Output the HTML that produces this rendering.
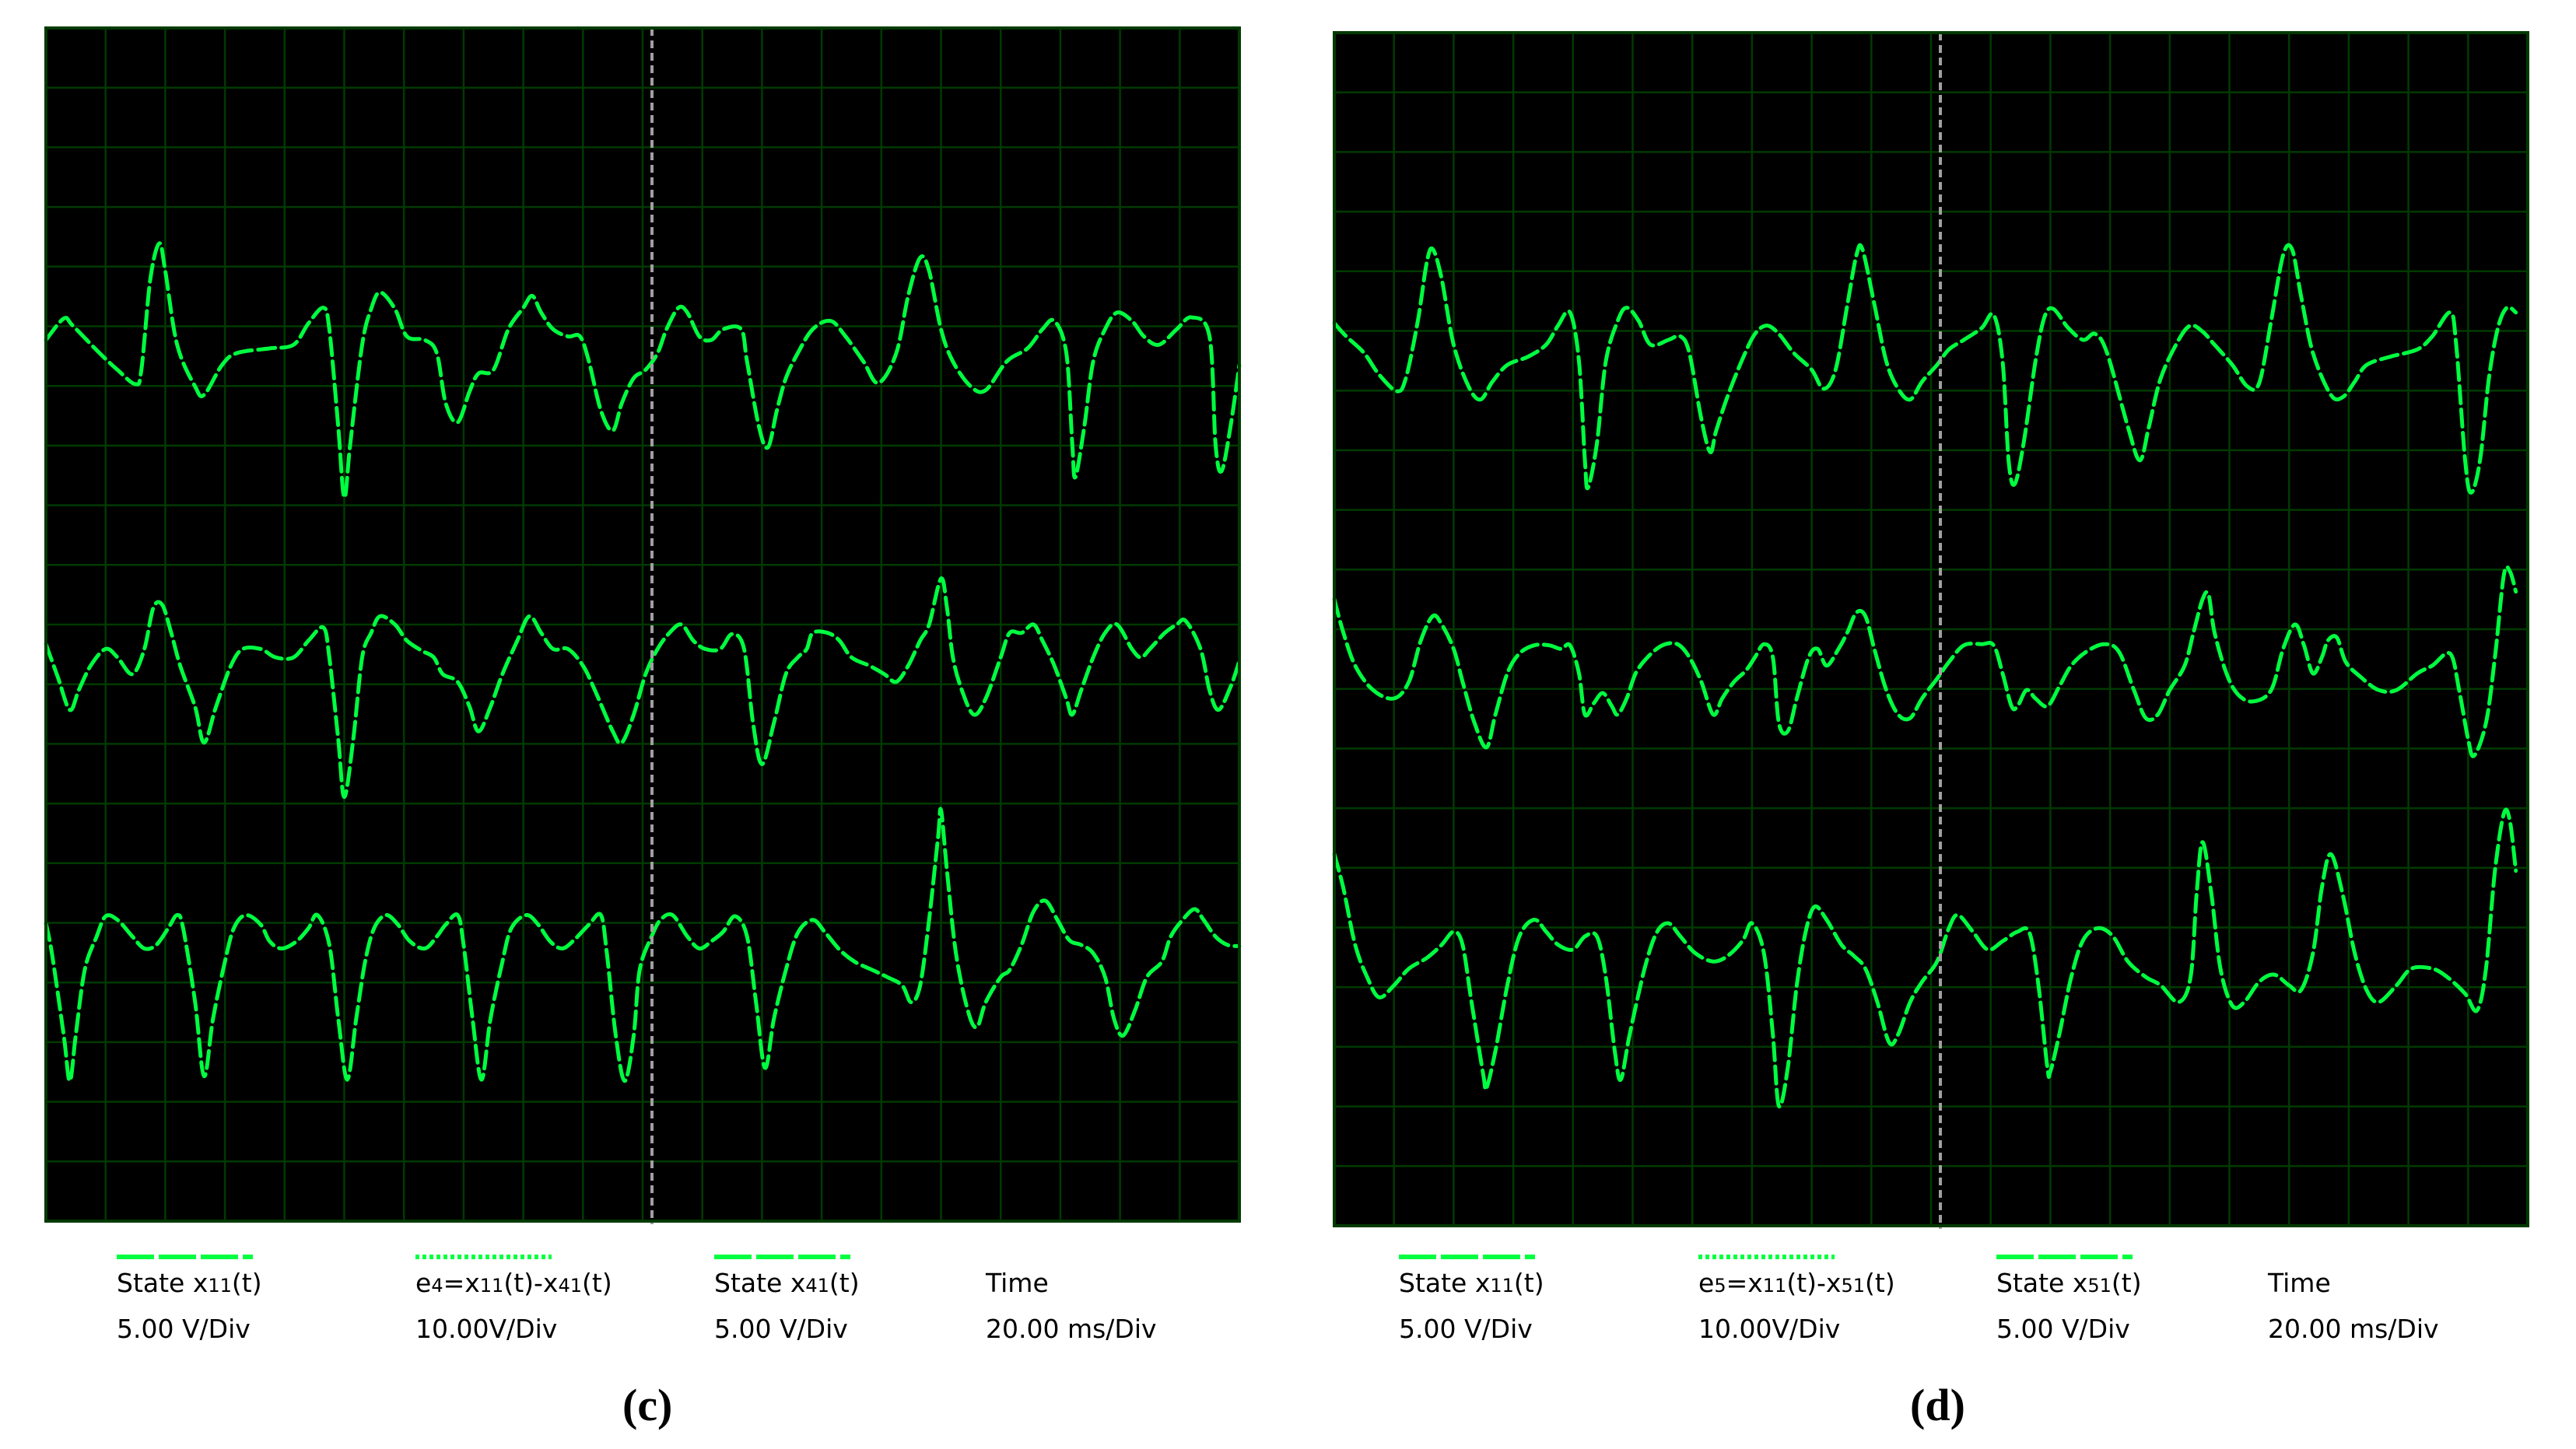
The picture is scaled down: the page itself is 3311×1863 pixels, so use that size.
<!DOCTYPE html>
<html><head><meta charset="utf-8"><style>
html,body{margin:0;padding:0;background:#fff;}
body{width:3311px;height:1863px;position:relative;overflow:hidden;font-family:"DejaVu Sans","Liberation Sans",sans-serif;}
.lbl{position:absolute;font-size:33px;color:#000;white-space:nowrap;}
.sub{font-size:24px;}
.cap{position:absolute;font-family:"Liberation Serif",serif;font-size:58px;font-weight:bold;color:#000;}
</style></head><body>
<svg id="chart" width="3311" height="1863" style="position:absolute;left:0;top:0"></svg>

<div class="lbl" style="left:150px;top:1630px">State x<span class="sub">11</span>(t)</div>
<div class="lbl" style="left:534px;top:1630px">e<span class="sub">4</span>=x<span class="sub">11</span>(t)-x<span class="sub">41</span>(t)</div>
<div class="lbl" style="left:918px;top:1630px">State x<span class="sub">41</span>(t)</div>
<div class="lbl" style="left:1267px;top:1630px">Time</div>
<div class="lbl" style="left:150px;top:1689px">5.00 V/Div</div>
<div class="lbl" style="left:534px;top:1689px">10.00V/Div</div>
<div class="lbl" style="left:918px;top:1689px">5.00 V/Div</div>
<div class="lbl" style="left:1267px;top:1689px">20.00 ms/Div</div>
<div class="cap" style="left:800px;top:1773px">(c)</div>

<div class="lbl" style="left:1798px;top:1630px">State x<span class="sub">11</span>(t)</div>
<div class="lbl" style="left:2183px;top:1630px">e<span class="sub">5</span>=x<span class="sub">11</span>(t)-x<span class="sub">51</span>(t)</div>
<div class="lbl" style="left:2566px;top:1630px">State x<span class="sub">51</span>(t)</div>
<div class="lbl" style="left:2915px;top:1630px">Time</div>
<div class="lbl" style="left:1798px;top:1689px">5.00 V/Div</div>
<div class="lbl" style="left:2183px;top:1689px">10.00V/Div</div>
<div class="lbl" style="left:2566px;top:1689px">5.00 V/Div</div>
<div class="lbl" style="left:2915px;top:1689px">20.00 ms/Div</div>
<div class="cap" style="left:2455px;top:1773px">(d)</div>

<script>
// time in ms, voltage in V
const cT1 = [0,6,9,18,24,30,32,35,38,40,44,50,53,59,64,75,83,88,93,95,98,100,102,106,109,112,117,121,127,131,134,138,142,145,150,155,160,163,166,170,175,179,182,186,190,193,197,201,205,208,212,215,219,223,227,233,235,239,242,245,248,252,257,263,268,274,279,285,289,293,296,300,304,310,315,322,329,334,338,342,344,345,348,351,355,359,364,368,373,379,384,390,392,394,397,400];
const cV1 = [1.4,3.2,2.6,0.3,-1.1,-2.3,-1.1,6.5,9.5,7.2,1.0,-2.5,-3.2,-0.7,0.3,0.7,1.0,2.8,4.1,2.3,-5.9,-11.8,-7.3,1.0,4.0,5.4,4.0,1.7,1.4,0.3,-3.9,-5.5,-2.9,-1.4,-1.1,2.3,4.1,5.1,3.7,2.3,1.7,1.7,-0.4,-4.5,-6.2,-3.9,-1.8,-1.1,0.3,2.3,4.1,3.7,1.7,1.4,2.3,2.3,-0.4,-5.9,-7.6,-4.5,-1.8,0.3,2.3,3.0,1.7,-0.4,-2.2,0.3,5.1,8.3,7.2,2.3,-0.4,-2.5,-2.8,-0.4,0.7,2.3,3.0,0.3,-7.3,-10.1,-5.9,-0.4,2.3,3.7,3.0,1.7,1.0,2.3,3.3,1.7,-7.3,-9.6,-5.9,-0.7];
const cT2 = [0,4,8,11,15,20,24,29,33,36,39,42,45,50,53,57,62,66,72,77,83,88,93,95,98,100,103,106,109,112,117,121,126,130,133,138,142,145,149,153,158,162,166,170,175,180,184,190,193,197,201,205,209,213,217,221,226,230,234,237,240,244,248,252,255,257,262,266,270,276,281,285,289,293,296,300,302,304,307,311,315,320,323,327,331,334,338,342,344,347,351,355,359,364,367,370,375,379,382,387,390,393,397,400];
const cV2 = [2.2,-3.3,-8.8,-5.5,-1.4,1.4,0,-2.8,1.4,8.3,8.8,4.1,-1.4,-8.3,-14.3,-8.3,-1.4,1.4,1.4,0,0,2.8,5.0,0,-13.8,-23.4,-13.8,0,4.1,6.9,5.5,2.8,1.1,0,-2.8,-4.1,-8.3,-12.4,-8.3,-2.8,2.8,6.9,4.1,1.4,1.4,-1.4,-5.5,-12.4,-14.3,-9.6,-2.8,1.4,4.1,5.5,2.8,1.4,1.4,3.9,1.4,-11.0,-17.9,-11.0,-2.8,0,1.4,4.1,4.1,2.8,0,-1.4,-2.8,-4.1,-1.4,2.8,5.5,13.2,8.3,0,-5.5,-9.6,-6.9,0,4.1,4.1,5.5,2.8,-1.4,-6.9,-9.6,-5.5,0,4.1,5.5,1.4,0,1.4,4.1,5.5,6.1,1.4,-5.5,-8.8,-5.0,-0.6];
const cT3 = [0,2,6,8,10,13,17,20,24,29,33,37,41,44,46,50,53,56,60,63,67,72,75,79,84,88,91,95,98,101,104,107,110,114,118,122,127,131,134,138,140,143,146,149,153,156,161,165,169,173,177,182,186,188,191,194,197,199,203,206,210,215,219,223,227,231,235,238,241,244,248,252,257,261,266,271,277,282,287,290,293,296,299,300,302,305,309,312,315,320,323,327,331,335,339,343,347,351,355,358,361,365,369,374,377,381,385,388,392,396,400];
const cV3 = [1.1,-1.4,-8.3,-12.1,-8.3,-2.8,0,1.7,1.4,0,-1.0,-0.7,0.7,1.8,0.7,-5.5,-11.7,-6.9,-2.1,0.7,1.8,1.0,-0.4,-1.0,-0.4,0.7,1.8,-0.7,-6.9,-12.0,-6.9,-2.1,0.7,1.8,1.0,-0.4,-1.0,0,1.0,1.8,-0.7,-6.9,-12.0,-6.9,-2.1,0.7,1.8,1.0,-0.4,-1.0,-0.3,1.0,1.8,-1.4,-8.3,-12.1,-8.3,-2.8,0,1.4,1.8,0,-1.0,-0.4,0.4,1.7,0,-5.5,-11.0,-6.9,-2.8,0.3,1.4,0.4,-1.1,-2.1,-2.8,-3.4,-4.1,-5.5,-4.1,1.4,8.3,10.6,5.5,-1.4,-6.2,-7.6,-5.5,-3.4,-2.8,-0.7,2.1,3.0,1.4,-0.3,-0.7,-1.4,-3.4,-6.9,-8.3,-6.2,-3.4,-2.1,0,1.4,2.3,1.4,0,-0.7,-0.8];

const dT1 = [0,4,10,15,21,24,28,31,33,36,40,45,49,53,58,65,71,75,79,82,84,85,88,91,95,98,102,106,112,116,119,123,126,128,132,137,141,145,149,154,160,164,168,172,175,177,181,185,189,193,197,202,206,211,217,221,224,226,228,231,235,238,241,246,251,255,259,266,270,273,277,283,287,291,295,301,306,310,314,318,321,324,328,334,338,342,346,354,363,368,374,376,379,381,384,387,390,393,396];
const dV1 = [3.2,2.1,0.7,-1.1,-2.5,-1.4,3.4,8.3,9.4,6.9,1.4,-2.1,-3.2,-1.7,-0.3,0.4,1.4,3.0,4.1,0,-8.3,-10.6,-6.9,0,3.4,4.5,3.4,1.4,1.8,2.1,0.7,-4.8,-7.6,-5.8,-2.8,0.3,2.3,3.0,2.3,0.7,-0.7,-2.3,-0.7,4.8,8.9,9.4,4.8,0,-2.3,-3.2,-1.7,-0.3,1.0,1.8,2.8,3.9,0,-8.3,-10.3,-6.9,0,3.7,4.4,2.8,1.8,2.3,0.7,-5.5,-8.3,-5.5,-1.4,1.8,3.0,2.5,1.4,-0.3,-2.1,-1.8,3.4,8.9,9.4,5.5,0.7,-2.8,-3.0,-1.7,-0.3,0.4,1.0,2.1,4.1,1.4,-8.3,-11.0,-8.3,-1.4,2.8,4.5,4.1];
const dT2 = [0,3,7,13,20,25,29,33,36,40,43,47,51,54,58,62,67,72,76,79,82,84,87,90,93,95,98,101,105,110,115,119,123,127,130,134,138,141,144,147,149,152,155,159,162,165,169,172,175,178,181,185,189,193,197,202,206,211,217,221,224,227,229,232,235,239,243,247,252,258,263,268,272,276,280,285,288,291,293,295,299,303,308,314,318,322,325,328,331,333,336,339,344,350,356,363,368,374,377,380,382,386,389,392,394,396];
const dV2 = [10.5,5.0,-0.6,-4.7,-6.1,-3.3,3.6,7.7,6.3,2.2,-3.3,-10.2,-14.3,-8.8,-1.9,1.4,2.8,2.8,2.2,2.8,-1.9,-8.8,-6.9,-5.2,-7.4,-8.8,-6.1,-1.9,0.8,2.8,3.0,0.8,-3.3,-8.8,-6.1,-3.3,-1.4,0.8,3.0,0.8,-10.2,-11.6,-6.1,0.8,2.2,-0.6,2.2,5.0,8.3,7.7,2.2,-4.7,-8.8,-9.4,-6.1,-2.8,0,2.8,3.0,2.8,-1.9,-7.4,-7.4,-4.7,-6.1,-7.4,-4.1,-0.6,1.7,3.0,1.7,-4.7,-9.4,-8.8,-4.7,-0.6,5.0,10.5,11.3,5.0,-1.9,-5.5,-6.6,-4.7,2.2,6.3,2.8,-1.9,0.8,3.6,4.1,0,-2.5,-4.7,-4.7,-1.9,-0.6,1.4,-4.7,-12.9,-15.7,-10.2,0.8,14.6,15.2,11.8];
const dT3 = [0,3,7,11,15,20,25,31,36,40,43,46,50,51,54,58,62,67,71,75,80,84,88,91,94,96,99,104,108,112,116,121,127,132,137,140,144,147,149,152,155,158,161,165,170,174,178,182,186,189,193,197,202,206,209,214,219,224,229,233,236,239,240,243,247,251,256,261,266,272,277,283,287,289,291,294,297,301,305,310,315,320,324,328,331,334,338,342,346,350,356,361,368,373,379,383,386,389,392,394,396];
const dV3 = [7.3,4.5,-0.3,-3.0,-4.7,-3.7,-2.3,-1.4,-0.3,0.8,-0.3,-5.1,-11.3,-12.3,-9.2,-3.7,0.4,1.8,0.8,-0.3,-0.7,0.4,0.4,-3.0,-9.2,-11.6,-7.8,-2.3,0.7,1.5,0.4,-1.0,-1.7,-1.2,0.1,1.5,-1.0,-7.8,-13.8,-10.6,-3.7,0.8,2.9,1.8,-0.3,-1.2,-2.3,-5.1,-8.5,-7.8,-5.1,-3.4,-1.7,1.1,2.2,0.8,-0.7,0,0.8,0.7,-3.7,-10.6,-10.9,-7.8,-3.0,0.1,1.1,0.4,-1.7,-3.0,-3.7,-5.1,-3.0,3.9,8.3,3.9,-2.3,-5.4,-5.1,-3.4,-2.8,-3.7,-4.1,-1.0,4.5,7.3,3.9,-1.0,-4.1,-5.1,-3.7,-2.3,-2.3,-3.0,-4.4,-5.8,-2.3,5.9,10.7,10.1,5.9];

const voltsPerDiv = [5, 10, 5];
const timePerDiv = 20;

const NS = 'http://www.w3.org/2000/svg';
const svg = document.getElementById('chart');
const SIZE = 1534, DIVS = 20, DIV = SIZE / DIVS;
const OFFS = [5.51, 10.55, 15.23];
const GREEN = '#00ff40';

function mk(tag, attrs, parent) {
  const e = document.createElementNS(NS, tag);
  for (const k in attrs) e.setAttribute(k, attrs[k]);
  (parent || svg).appendChild(e);
  return e;
}

function panel(px, py, cursorX, series, label) {
  const g = mk('g', {});
  
  
  mk('rect', {x: px, y: py, width: SIZE, height: SIZE, fill: '#000'}, g);
  for (let i = 1; i < DIVS; i++) {
    const vl = mk('line', {x1: px + i * DIV, y1: py, x2: px + i * DIV, y2: py + SIZE, stroke: '#003a00', 'stroke-width': 2.5}, g);
    
    
    const hl = mk('line', {x1: px, y1: py + i * DIV, x2: px + SIZE, y2: py + i * DIV, stroke: '#003a00', 'stroke-width': 2.5}, g);
    
    
  }
  const xs = t => px + t / (timePerDiv * DIVS) * SIZE;
  series.forEach((s, k) => {
    const ys = v => py + (OFFS[k] - v / voltsPerDiv[k]) * DIV;
    const P = s.t.map((t, i) => [xs(t), ys(s.v[i])]);
    let d = 'M' + P[0][0].toFixed(1) + ',' + P[0][1].toFixed(1);
    for (let i = 0; i < P.length - 1; i++) {
      const p0 = P[Math.max(0, i - 1)], p1 = P[i], p2 = P[i + 1], p3 = P[Math.min(P.length - 1, i + 2)];
      const c1x = p1[0] + (p2[0] - p0[0]) / 6, c1y = p1[1] + (p2[1] - p0[1]) / 6;
      const c2x = p2[0] - (p3[0] - p1[0]) / 6, c2y = p2[1] - (p3[1] - p1[1]) / 6;
      d += ' C' + c1x.toFixed(1) + ',' + c1y.toFixed(1) + ' ' + c2x.toFixed(1) + ',' + c2y.toFixed(1) + ' ' + p2[0].toFixed(1) + ',' + p2[1].toFixed(1);
    }
    const path = mk('path', {d: d, fill: 'none', stroke: GREEN, 'stroke-width': 5, 'stroke-dasharray': '22 8', 'stroke-linecap': 'round', 'stroke-linejoin': 'round'}, g);
    
    
  });
  const cur = mk('line', {x1: cursorX, y1: py, x2: cursorX, y2: py + SIZE + 4, stroke: '#a0a0a0', 'stroke-width': 4, 'stroke-dasharray': '10 6'}, g);
  
  
  const b = mk('rect', {x: px, y: py, width: SIZE, height: SIZE, fill: 'none', stroke: '#003a00', 'stroke-width': 4}, g);
  
  
}

panel(59, 36, 838, [{t: cT1, v: cV1}, {t: cT2, v: cV2}, {t: cT3, v: cV3}], 'c');
panel(1715, 42, 2494, [{t: dT1, v: dV1}, {t: dT2, v: dV2}, {t: dT3, v: dV3}], 'd');

function legendLine(x, dash, name) {
  const l = mk('line', {x1: x, y1: 1616, x2: x + 175, y2: 1616, stroke: GREEN, 'stroke-width': 6, 'stroke-dasharray': dash});
  
  
}
legendLine(150, '48 6', 'legend-swatch-c-x11');
legendLine(534, '5 4', 'legend-swatch-c-e4');
legendLine(918, '48 6', 'legend-swatch-c-x41');
legendLine(1798, '48 6', 'legend-swatch-d-x11');
legendLine(2183, '5 4', 'legend-swatch-d-e5');
legendLine(2566, '48 6', 'legend-swatch-d-x51');
</script>
</body></html>
